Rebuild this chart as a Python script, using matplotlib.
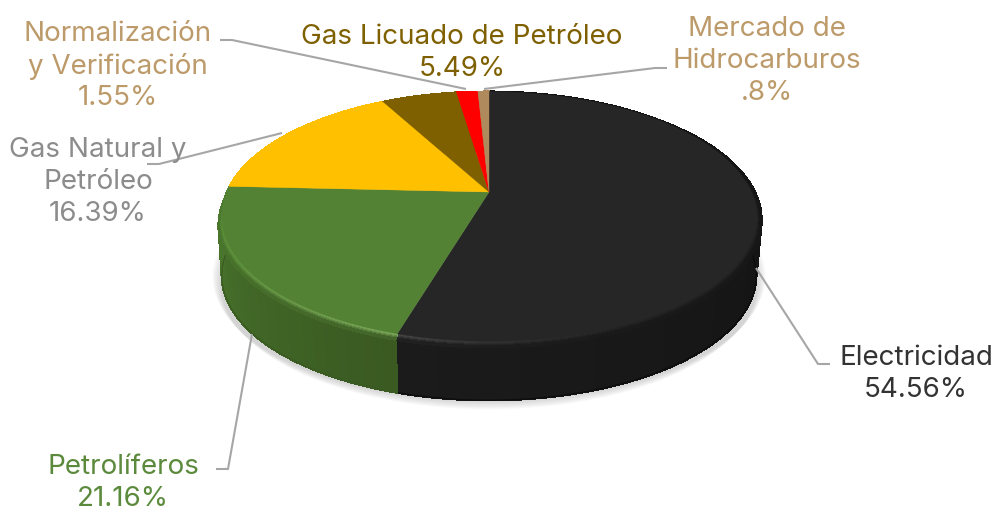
import numpy as np
from matplotlib import pyplot as plt
from matplotlib.collections import PolyCollection
from matplotlib.colors import to_rgb

# datos
categorias = ['Electricidad', 'Petrolíferos', 'Gas Natural y\nPetróleo', 'Gas Licuado de Petróleo',
              'Normalización\ny Verificación', 'Mercado de\nHidrocarburos']
valores = [54.56, 21.16, 16.39, 5.49, 1.55, 0.8]
etiquetas_pct = ['54.56%', '21.16%', '16.39%', '5.49%', '1.55%', '.8%']

color_top = ['#262626', '#548235', '#FFC000', '#7F6000', '#FF0000', '#AE8A5C']
color_wall_a = ['#0D0D0D', '#3A5A22', '#FFC000', '#7F6000', '#FF0000', '#AE8A5C']
color_wall_b = ['#1B1B1B', '#4C7A2E', '#FFC000', '#7F6000', '#FF0000', '#AE8A5C']
color_txt = ['#333333', '#5C8A3C', '#8C8C8C', '#7F6000', '#BC9A6A', '#BC9A6A']

# centro de cada etiqueta
pos_txt = [(916, 374), (123, 483), (98, 182), (462, 53), (118, 66), (767, 61)]
# lineas guia
guias = [[(830, 365), (818, 365), (756, 269)],
         [(216, 470), (228, 470), (252, 335)],
         [(147, 165), (159, 165), (282, 134)],
         [(220, 41), (232, 41), (466, 90)],
         [(667, 69), (655, 69), (484, 90)]]

CX, CY = 489, 193
A, B, K = 262, 120, 0.196
PROF = 59


def proy(t, r=1.0, dy=0.0):
    # t: angulo en sentido horario desde arriba
    x = r * np.sin(t)
    y = -r * np.cos(t)
    w = 1 - K * y
    return CX + A * x / w, CY + dy + B * y / w


def mezcla(c1, c2, f):
    c1, c2 = np.array(to_rgb(c1)), np.array(to_rgb(c2))
    return tuple(c1 + (c2 - c1) * f)


def borde_ext(t):
    x, y = proy(t)
    g = np.degrees(t)
    # el bisel se cierra arriba y en el borde verde/amarillo
    ancho = np.where(g < 180, np.clip(g / 60, 0, 1), np.clip((272.6 - g) / 25, 0, 1))
    return CX + (x - CX) * (1 + 0.02 * ancho), y + 3 * (1 - np.cos(t))


def banda(ax, pa, pb, colores, z):
    xa, ya = pa
    xb, yb = pb
    polys = [[(xa[i], ya[i]), (xa[i + 1], ya[i + 1]), (xb[i + 1], yb[i + 1]), (xb[i], yb[i])]
             for i in range(len(xa) - 1)]
    ax.add_collection(PolyCollection(polys, facecolors=colores, edgecolors=colores, linewidths=1,
                                     antialiaseds=False, zorder=z))


fig = plt.figure(figsize=(9.96, 5.10), dpi=100)
ax = fig.add_axes([0, 0, 1, 1])
ax.set_xlim(0, 996)
ax.set_ylim(510, 0)
ax.axis('off')

plt.rcParams['font.family'] = ['Inter', 'DejaVu Sans']

fracc = np.array(valores) / sum(valores)
bordes = np.concatenate([[0], np.cumsum(fracc)]) * 2 * np.pi

# sombra
tt = np.linspace(0, 2 * np.pi, 300)
for i in range(10):
    sx, sy = proy(tt, dy=PROF + 1 + i * 0.9)
    ax.fill(CX + (sx - CX) * (1.0 + 0.0035 * (10 - i)), sy, color='#808080', alpha=0.035, lw=0, zorder=1)

# pared, banda y cara superior
rings = np.linspace(0, 1, 7)
for i in range(len(valores)):
    t = np.linspace(bordes[i], bordes[i + 1], max(int(valores[i] * 4), 6))
    tm = (t[:-1] + t[1:]) / 2
    f = (tm - tm.min()) / max(np.ptp(tm), 1e-6)

    arriba = borde_ext(t)
    abajo = proy(t, dy=PROF)
    cols = [mezcla(color_wall_a[i], color_wall_b[i], v) for v in f]
    if i == 1:
        # verde: mas oscuro junto al negro, mas claro a la izquierda
        cols = [mezcla('#3A5A22', '#4C7A2E', v ** 1.2) for v in f]
    banda(ax, arriba, abajo, cols, 2)
    # contorno suave de la pared
    ax.plot(abajo[0], abajo[1], color=color_wall_a[i], lw=1, zorder=2)

    # bisel
    base = color_top[i]
    xi, yi = proy(t)
    xo, yo = borde_ext(t)
    if i == 0:
        brillo = np.clip((tm - np.radians(150)) / np.radians(46), 0, 1) ** 2
    else:
        brillo = np.clip(1 - (tm - bordes[i]) / np.radians(60), 0, 1) ** 1.5
    for p0, p1 in zip(rings[:-1], rings[1:]):
        pa = (xi + (xo - xi) * p0, yi + (yo - yi) * p0)
        pb = (xi + (xo - xi) * p1, yi + (yo - yi) * p1)
        pm = (p0 + p1) / 2
        cols = []
        for b, v in zip(brillo, f):
            if i == 0:
                luz = mezcla('#262626', '#4A4A4A', b)
            elif i == 1:
                luz = mezcla('#5C9339', '#84B063', b)
            else:
                luz = to_rgb(base)
            pared = mezcla(color_wall_a[i], color_wall_b[i], v)
            if pm < 0.3:
                cols.append(tuple(np.array(to_rgb(base)) + (np.array(luz) - np.array(to_rgb(base))) * pm / 0.3))
            else:
                cols.append(tuple(np.array(luz) + (np.array(pared) - np.array(luz)) * (pm - 0.3) / 0.7))
        banda(ax, pa, pb, cols, 3)

    xs, ys = proy(t)
    ax.fill(np.r_[CX, xs], np.r_[CY, ys], color=color_top[i], lw=0.3, zorder=4)

# lineas guia
for g in guias:
    ax.plot([p[0] for p in g], [p[1] for p in g], color='#A6A6A6', lw=1.5, zorder=5, solid_capstyle='butt')

# textos
for i in range(len(categorias)):
    ax.text(pos_txt[i][0], pos_txt[i][1], categorias[i] + '\n' + etiquetas_pct[i], color=color_txt[i],
            fontsize=20, ha='center', va='center', multialignment='center', linespacing=1.29, zorder=6)

plt.savefig('out.png', dpi=100)
